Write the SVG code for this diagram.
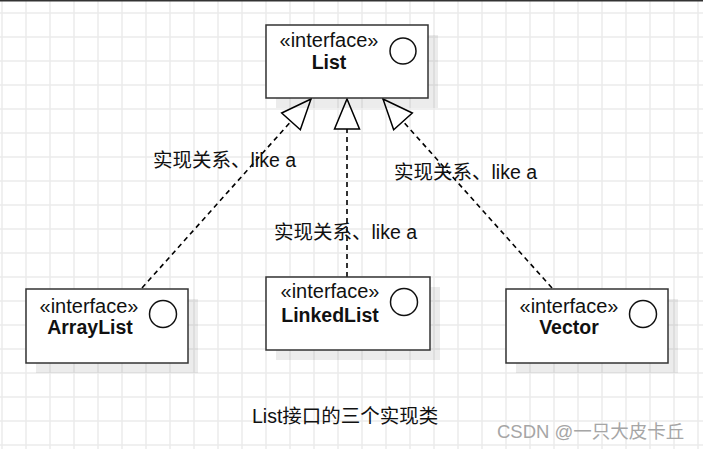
<svg xmlns="http://www.w3.org/2000/svg" width="703" height="449" viewBox="0 0 703 449">
<defs>
<pattern id="grid" x="-10" y="1" width="24" height="24" patternUnits="userSpaceOnUse">
<rect x="11.25" y="0" width="1.5" height="24" fill="#ebebeb"/>
<rect x="0" y="11.25" width="24" height="1.5" fill="#ebebeb"/>
</pattern>
<marker id="tri" markerUnits="userSpaceOnUse" markerWidth="36" markerHeight="30" viewBox="0 0 36 30" refX="33" refY="15" orient="auto">
<path d="M3,2.5 L33,15 L3,27.5 Z" fill="#fff" stroke="#000" stroke-width="1.5" stroke-dasharray="none"/>
</marker>
<style>
.box{fill:#fff;stroke:#333;stroke-width:1.5}
.shadow{fill:#000;fill-opacity:0.075}
.lol{fill:#fff;stroke:#111;stroke-width:1.5}
.st{font-family:"Liberation Sans","Noto Sans CJK SC",sans-serif;font-size:20px;fill:#111;text-anchor:middle}
.nm{font-family:"Liberation Sans","Noto Sans CJK SC",sans-serif;font-size:19.5px;font-weight:bold;fill:#111;text-anchor:middle}
.lbl{font-family:"Liberation Sans","Noto Sans CJK SC",sans-serif;font-size:19.5px;fill:#111}
.edge{fill:none;stroke:#000;stroke-width:1.6;stroke-dasharray:5 4;marker-end:url(#tri)}
</style>
</defs>
<rect x="0" y="0" width="703" height="449" fill="#fff"/>
<rect x="0" y="0" width="703" height="449" fill="url(#grid)"/>
<rect x="0" y="0" width="703" height="1.5" fill="#333"/>

<g id="connectors">
<path class="edge" d="M142,288 L311,99"/>
<path class="edge" d="M347,277 L347,99"/>
<path class="edge" d="M552,288 L383,99"/>
<text class="lbl" x="153" y="167">实现关系、like a</text>
<text class="lbl" x="274" y="239">实现关系、like a</text>
<text class="lbl" x="394" y="179">实现关系、like a</text>
</g>

<g id="List">
<rect class="shadow" x="276" y="35" width="162" height="73"/>
<rect class="box" x="266" y="25" width="162" height="73"/>
<text class="st" x="329" y="47">«interface»</text>
<text class="nm" x="329" y="69">List</text>
<circle class="lol" cx="403" cy="51" r="13"/>
</g>

<g id="ArrayList">
<rect class="shadow" x="36" y="299" width="162" height="74"/>
<rect class="box" x="26" y="289" width="162" height="74"/>
<text class="st" x="89" y="313">«interface»</text>
<text class="nm" x="90" y="334">ArrayList</text>
<circle class="lol" cx="163" cy="314" r="13.5"/>
</g>

<g id="LinkedList">
<rect class="shadow" x="276" y="287" width="164" height="73"/>
<rect class="box" x="266" y="277" width="164" height="73"/>
<text class="st" x="330" y="298">«interface»</text>
<text class="nm" x="330" y="322">LinkedList</text>
<circle class="lol" cx="404" cy="302" r="13.5"/>
</g>

<g id="Vector">
<rect class="shadow" x="516" y="299" width="162" height="74"/>
<rect class="box" x="506" y="289" width="162" height="74"/>
<text class="st" x="569" y="313">«interface»</text>
<text class="nm" x="569" y="334">Vector</text>
<circle class="lol" cx="643" cy="314" r="13.5"/>
</g>

<g id="caption">
<text class="lbl" x="252" y="423">List接口的三个实现类</text>
</g>
<text x="497" y="438" style="font-family:'Liberation Sans','Noto Sans CJK SC',sans-serif;font-size:18.5px;fill:#a6a6a6">CSDN @一只大皮卡丘</text>
</svg>
